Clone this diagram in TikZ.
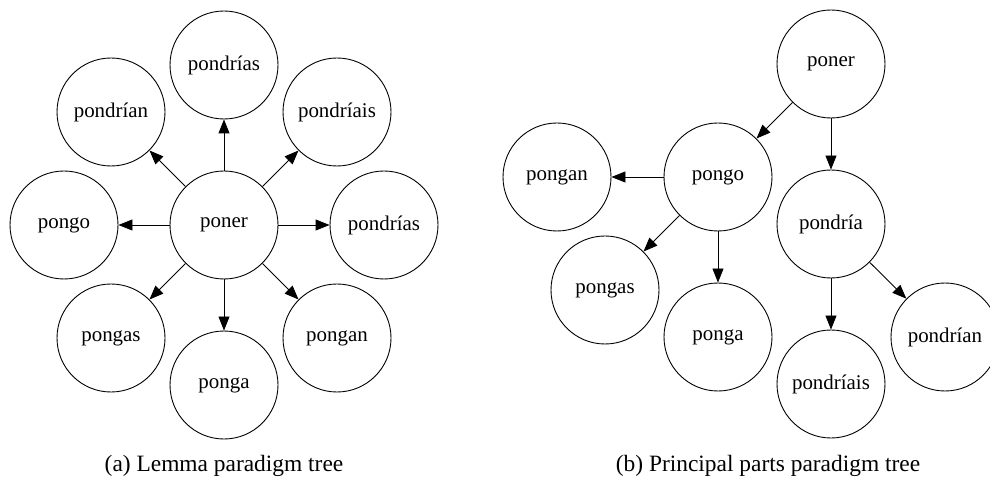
\documentclass[tikz,border=0pt]{standalone}
\usepackage{fontspec}
\setmainfont{Liberation Serif}
\usetikzlibrary{arrows.meta}
\begin{document}
\begin{tikzpicture}[x=1bp,y=-1bp,
		word/.style={draw,circle,minimum size=108bp,inner sep=0pt,line width=0.9bp,font=\fontsize{21}{25}\selectfont},
		edge/.style={line width=0.9bp,-{Triangle[length=14bp,width=11bp]}},
		subcap/.style={font=\fontsize{23.5}{28}\selectfont}]
		\useasboundingbox (0,0) rectangle (990,479);
		% (a) lemma tree
		\node[word] at (224,225) (a) {poner};
		\node[word] at (224,65) (a1) {pondrías};
		\node[word] at (111,112) (a2) {pondrían};
		\node[word] at (337,112) (a3) {pondríais};
		\node[word] at (64,225) (a4) {pongo};
		\node[word] at (384,225) (a5) {pondrías};
		\node[word] at (111,338) (a6) {pongas};
		\node[word] at (224,385) (a7) {ponga};
		\node[word] at (337,338) (a8) {pongan};
		\foreach \n in {a1,a2,a3,a4,a5,a6,a7,a8}
			\draw[edge] (a) -- (\n);
		\node[subcap] at (224,466) (ca) {(a) Lemma paradigm tree};
		% (b) principal parts tree
		\node[word] at (831,64) (b) {poner};
		\node[word] at (718,177) (b1) {pongo};
		\node[word] at (831,224) (b2) {pondría};
		\node[word] at (557,177) (b3) {pongan};
		\node[word] at (605,290) (b4) {pongas};
		\node[word] at (718,337) (b5) {ponga};
		\node[word] at (831,384) (b6) {pondríais};
		\node[word] at (945,337) (b7) {pondrían};
		\draw[edge] (b) -- (b1);
		\draw[edge] (b) -- (b2);
		\draw[edge] (b1) -- (b3);
		\draw[edge] (b1) -- (b4);
		\draw[edge] (b1) -- (b5);
		\draw[edge] (b2) -- (b6);
		\draw[edge] (b2) -- (b7);
		\node[subcap] at (768,466) (cb) {(b) Principal parts paradigm tree};
	\end{tikzpicture}
\end{document}
